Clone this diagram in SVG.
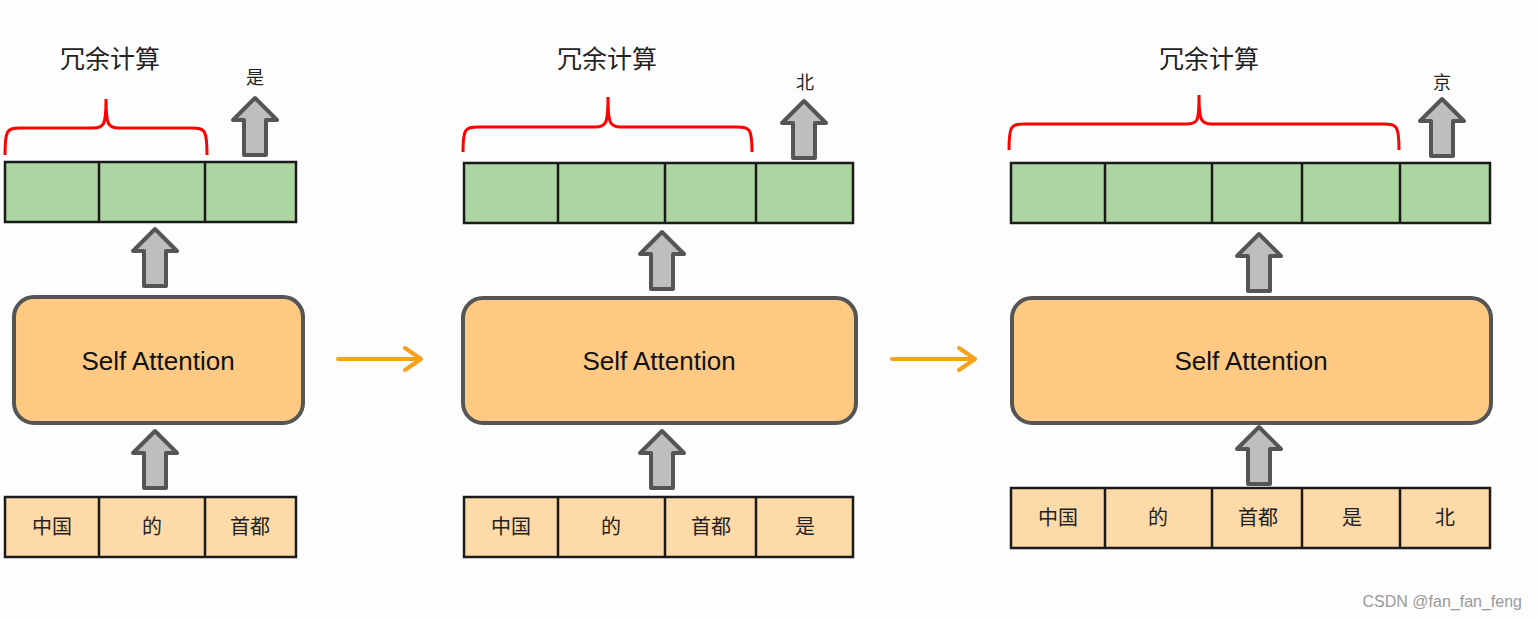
<svg xmlns="http://www.w3.org/2000/svg" width="1538" height="619" viewBox="0 0 1538 619">
<style>
.bg{fill:#fdfdfe}
.g{fill:#acd5a2;stroke:#1a1a1a;stroke-width:2.5}
.in{fill:#fddaa8;stroke:#1a1a1a;stroke-width:2.5}
.div{stroke:#1a1a1a;stroke-width:2.5}
.sa{fill:#fdc983;stroke:#555;stroke-width:4}
.sat{font-family:"Liberation Sans",Arial,sans-serif;font-size:26px;fill:#111;text-anchor:middle}
.cj{font-family:"Noto Sans CJK SC",sans-serif;fill:#222;text-anchor:middle}
.br{fill:none;stroke:#f00;stroke-width:3}
.ga{fill:#bebec0;stroke:#555;stroke-width:4;stroke-linejoin:round}
.oa{fill:none;stroke:#f9a11b;stroke-width:4;stroke-linecap:round;stroke-linejoin:round}
</style>
<defs>
<path id="up" d="M0,0 L22,22 L11,22 L11,57 L-11,57 L-11,22 L-22,22 Z"/>
</defs>
<rect class="bg" width="1538" height="619"/>

<g id="panel1">
<text class="cj" x="110" y="68" font-size="25">冗余计算</text>
<path class="br" d="M5,155 C5,130 7,128 20,128 L93,128 C104,128 106,125 106,99 C106,125 108,128 119,128 L192,128 C205,128 207,130 207,155"/>
<text class="cj" x="255" y="84" font-size="18">是</text>
<use href="#up" class="ga" x="255" y="98"/>
<rect class="g" x="5" y="162" width="291" height="60"/>
<line class="div" x1="99" y1="162" x2="99" y2="222"/>
<line class="div" x1="205" y1="162" x2="205" y2="222"/>
<use href="#up" class="ga" x="155" y="229"/>
<rect class="sa" x="14" y="297" width="289" height="126" rx="20"/>
<text class="sat" x="158" y="370">Self Attention</text>
<use href="#up" class="ga" x="155" y="431"/>
<rect class="in" x="5" y="497" width="291" height="60"/>
<line class="div" x1="99" y1="497" x2="99" y2="557"/>
<line class="div" x1="205" y1="497" x2="205" y2="557"/>
<text class="cj" x="52" y="534" font-size="20">中国</text>
<text class="cj" x="152" y="534" font-size="20">的</text>
<text class="cj" x="250" y="534" font-size="20">首都</text>
</g>

<g id="panel2">
<text class="cj" x="607" y="68" font-size="25">冗余计算</text>
<path class="br" d="M463,152 C463,129 465,127 478,127 L595,127 C606,127 608,124 608,97 C608,124 610,127 621,127 L737,127 C750,127 752,129 752,152"/>
<text class="cj" x="805" y="89" font-size="18">北</text>
<use href="#up" class="ga" x="804" y="101"/>
<rect class="g" x="464" y="163" width="389" height="60"/>
<line class="div" x1="558" y1="163" x2="558" y2="223"/>
<line class="div" x1="665" y1="163" x2="665" y2="223"/>
<line class="div" x1="756" y1="163" x2="756" y2="223"/>
<use href="#up" class="ga" x="662" y="232"/>
<rect class="sa" x="463" y="298" width="393" height="125" rx="20"/>
<text class="sat" x="659" y="370">Self Attention</text>
<use href="#up" class="ga" x="662" y="431"/>
<rect class="in" x="464" y="497" width="389" height="60"/>
<line class="div" x1="558" y1="497" x2="558" y2="557"/>
<line class="div" x1="665" y1="497" x2="665" y2="557"/>
<line class="div" x1="756" y1="497" x2="756" y2="557"/>
<text class="cj" x="511" y="534" font-size="20">中国</text>
<text class="cj" x="611" y="534" font-size="20">的</text>
<text class="cj" x="711" y="534" font-size="20">首都</text>
<text class="cj" x="805" y="534" font-size="20">是</text>
</g>

<g id="panel3">
<text class="cj" x="1209" y="68" font-size="25">冗余计算</text>
<path class="br" d="M1009,150 C1009,126 1011,124 1024,124 L1187,124 C1198,124 1199,121 1199,95 C1199,121 1201,124 1212,124 L1384,124 C1397,124 1399,126 1399,150"/>
<text class="cj" x="1442" y="89" font-size="18">京</text>
<use href="#up" class="ga" x="1442" y="99"/>
<rect class="g" x="1011" y="163" width="479" height="60"/>
<line class="div" x1="1105" y1="163" x2="1105" y2="223"/>
<line class="div" x1="1212" y1="163" x2="1212" y2="223"/>
<line class="div" x1="1302" y1="163" x2="1302" y2="223"/>
<line class="div" x1="1400" y1="163" x2="1400" y2="223"/>
<use href="#up" class="ga" x="1259" y="234"/>
<rect class="sa" x="1012" y="298" width="479" height="125" rx="20"/>
<text class="sat" x="1251" y="370">Self Attention</text>
<use href="#up" class="ga" x="1259" y="427"/>
<rect class="in" x="1011" y="488" width="479" height="60"/>
<line class="div" x1="1105" y1="488" x2="1105" y2="548"/>
<line class="div" x1="1212" y1="488" x2="1212" y2="548"/>
<line class="div" x1="1302" y1="488" x2="1302" y2="548"/>
<line class="div" x1="1400" y1="488" x2="1400" y2="548"/>
<text class="cj" x="1058" y="525" font-size="20">中国</text>
<text class="cj" x="1158" y="525" font-size="20">的</text>
<text class="cj" x="1258" y="525" font-size="20">首都</text>
<text class="cj" x="1352" y="525" font-size="20">是</text>
<text class="cj" x="1445" y="525" font-size="20">北</text>
</g>

<g id="connectors">
<path class="oa" d="M338,359 L421,359 M405,348 L421,359 L405,370"/>
<path class="oa" d="M892,359 L975,359 M959,348 L975,359 L959,370"/>
</g>

<text x="1522" y="607" font-family="'Liberation Sans',Arial,sans-serif" font-size="16" fill="#999" text-anchor="end">CSDN @fan_fan_feng</text>
</svg>
